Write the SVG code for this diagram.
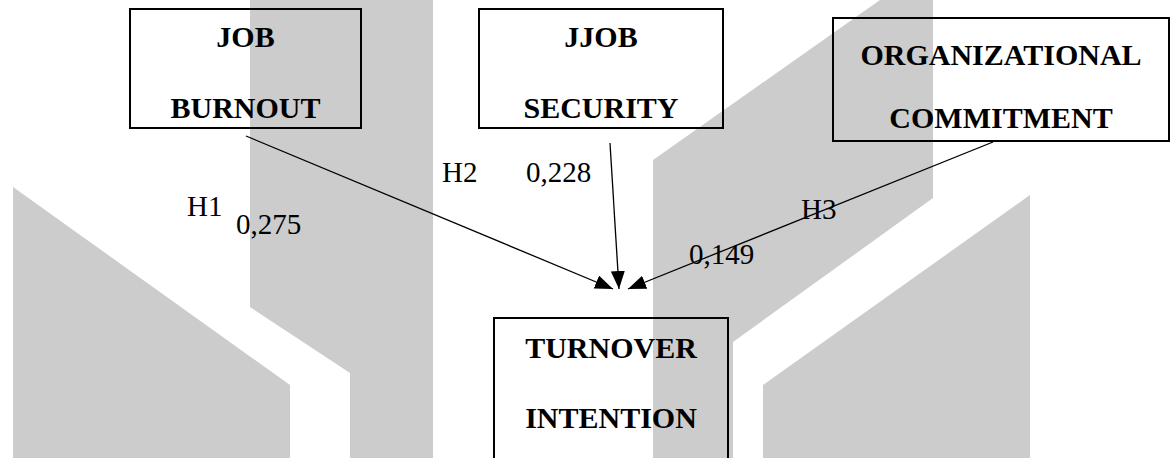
<svg xmlns="http://www.w3.org/2000/svg" width="1173" height="458" viewBox="0 0 1173 458">
<style>
.wm{fill:#cccccc}
.box{fill:none;stroke:#000;stroke-width:2}
.t{font-family:"Liberation Serif","Times New Roman",serif;font-weight:bold;font-size:30px;text-anchor:middle;fill:#000}
.lbl{font-family:"Liberation Serif","Times New Roman",serif;font-size:29px;fill:#000}
.edge{stroke:#000;stroke-width:1.3;fill:none;marker-end:url(#arr)}
</style>
<defs>
<marker id="arr" markerWidth="18" markerHeight="14" refX="18" refY="7" orient="auto" markerUnits="userSpaceOnUse">
<path d="M0,0 L18,7 L0,14 z" fill="#000"/>
</marker>
</defs>
<rect width="1173" height="458" fill="#fff"/>
<g id="watermark">
<polygon class="wm" points="13,187 290,385 290,458 13,458"/>
<polygon class="wm" points="250,0 433,0 433,458 350,458 350,373 250,307"/>
<polygon class="wm" points="653,160 880,0 933,0 933,198 733,342 733,458 653,458"/>
<polygon class="wm" points="763,385 1030,195 1030,458 763,458"/>
</g>
<g id="connectors">
<path class="edge" d="M246,136 L613,289"/>
<path class="edge" d="M610,143 L619,289"/>
<path class="edge" d="M993,142 L628,289"/>
<text class="lbl" x="187" y="216">H1</text>
<text class="lbl" x="236" y="234">0,275</text>
<text class="lbl" x="442" y="182">H2</text>
<text class="lbl" x="526" y="182">0,228</text>
<text class="lbl" x="801" y="219">H3</text>
<text class="lbl" x="689" y="264">0,149</text>
</g>
<g id="job-burnout">
<rect class="box" x="130" y="9" width="231" height="119"/>
<text class="t" x="245.5" y="47">JOB</text>
<text class="t" x="245.5" y="118">BURNOUT</text>
</g>
<g id="job-security">
<rect class="box" x="479" y="9" width="244" height="119"/>
<text class="t" x="601" y="47">JJOB</text>
<text class="t" x="601" y="118">SECURITY</text>
</g>
<g id="organizational-commitment">
<rect class="box" x="833" y="18" width="336" height="123"/>
<text class="t" x="1001" y="65">ORGANIZATIONAL</text>
<text class="t" x="1001" y="128">COMMITMENT</text>
</g>
<g id="turnover-intention">
<rect class="box" x="494" y="318" width="234" height="150"/>
<text class="t" x="611" y="358">TURNOVER</text>
<text class="t" x="611" y="428">INTENTION</text>
</g>
</svg>
